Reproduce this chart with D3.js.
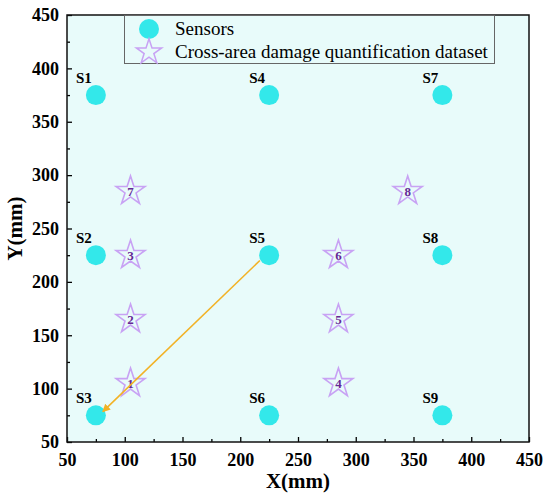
<!DOCTYPE html>
<html>
<head>
<meta charset="utf-8">
<script src="https://cdn.jsdelivr.net/npm/d3@7"></script>
<style>
  body { margin: 0; background: #fff; }
</style>
</head>
<body>
<div id="chart"></div>
<script>
// DATA
const sensorNames = ["S1", "S2", "S3", "S4", "S5", "S6", "S7", "S8", "S9"];
const sensorX = [75, 75, 75, 225, 225, 225, 375, 375, 375];
const sensorY = [375, 225, 75, 375, 225, 75, 375, 225, 75];

const damageIds = [1, 2, 3, 4, 5, 6, 7, 8];
const damageX = [105, 105, 105, 285, 285, 285, 105, 345];
const damageY = [105, 165, 225, 105, 165, 225, 285, 285];

const pathX = [217, 81];
const pathY = [220, 78.5];

const xTicks = [50, 100, 150, 200, 250, 300, 350, 400, 450];
const yTicks = [50, 100, 150, 200, 250, 300, 350, 400, 450];

const legendLabels = ["Sensors", "Cross-area damage quantification dataset"];

// CONSTANTS
const width = 550,
  height = 500,
  margin = { top: 15, right: 21, bottom: 58, left: 67 };

const serif = "'Liberation Serif', 'Times New Roman', Times, serif";

const sensorColor = "#33e8ea",
  starStroke = "#c8a2f4",
  starText = "#652896",
  arrowColor = "#f2b226";

const svg = d3.select("#chart")
  .append("svg")
  .attr("width", width)
  .attr("height", height)
  .style("font-family", serif);

const xScale = d3.scaleLinear()
  .domain([50, 450])
  .range([margin.left, width - margin.right]);

const yScale = d3.scaleLinear()
  .domain([50, 450])
  .range([height - margin.bottom, margin.top]);

const defs = svg.append("defs");
defs.append("marker")
  .attr("id", "arrow")
  .attr("viewBox", "0 0 10 10")
  .attr("refX", 9)
  .attr("refY", 5)
  .attr("markerWidth", 5)
  .attr("markerHeight", 5)
  .attr("orient", "auto")
  .append("path")
  .attr("d", "M0,0 L10,5 L0,10 z")
  .attr("fill", arrowColor);

// plot background
svg.append("rect")
  .attr("x", xScale(50))
  .attr("y", yScale(450))
  .attr("width", xScale(450) - xScale(50))
  .attr("height", yScale(50) - yScale(450))
  .attr("fill", "#e8fbfa");

// AXES (ticks pointing inward)
const minorX = d3.range(75, 450, 50);
const minorY = d3.range(75, 450, 50);

svg.append("g")
  .attr("transform", `translate(0,${yScale(50)})`)
  .call(d3.axisBottom(xScale).tickValues(minorX).tickSize(-3).tickFormat(""))
  .call(g => g.select(".domain").remove());

svg.append("g")
  .attr("transform", `translate(${xScale(50)},0)`)
  .call(d3.axisLeft(yScale).tickValues(minorY).tickSize(-3).tickFormat(""))
  .call(g => g.select(".domain").remove());

const xAxis = svg.append("g")
  .attr("transform", `translate(0,${yScale(50)})`)
  .call(d3.axisBottom(xScale).tickValues(xTicks).tickSize(-5).tickPadding(11));
xAxis.select(".domain").remove();

const yAxis = svg.append("g")
  .attr("transform", `translate(${xScale(50)},0)`)
  .call(d3.axisLeft(yScale).tickValues(yTicks).tickSize(-5).tickPadding(8));
yAxis.select(".domain").remove();

svg.selectAll(".tick line").attr("stroke", "#000").attr("stroke-width", 1.3);
svg.selectAll(".tick text")
  .style("font-family", serif)
  .style("font-size", "18px")
  .style("font-weight", "bold")
  .attr("fill", "#000");

// frame
svg.append("rect")
  .attr("x", xScale(50))
  .attr("y", yScale(450))
  .attr("width", xScale(450) - xScale(50))
  .attr("height", yScale(50) - yScale(450))
  .attr("fill", "none")
  .attr("stroke", "#111")
  .attr("stroke-width", 1.5);

// axis titles
svg.append("text")
  .attr("x", (xScale(50) + xScale(450)) / 2)
  .attr("y", 488)
  .attr("text-anchor", "middle")
  .style("font-size", "21px")
  .style("font-weight", "bold")
  .text("X(mm)");

svg.append("text")
  .attr("transform", `translate(22,${(yScale(50) + yScale(450)) / 2}) rotate(-90)`)
  .attr("text-anchor", "middle")
  .style("font-size", "21px")
  .style("font-weight", "bold")
  .text("Y(mm)");

// star shape
const star = d3.symbol().type(d3.symbolStar).size(260);

// DAMAGE POINTS
const damage = damageIds.map((id, i) => ({ id, x: damageX[i], y: damageY[i] }));

const stars = svg.append("g")
  .selectAll("g")
  .data(damage)
  .join("g")
  .attr("transform", d => `translate(${xScale(d.x)},${yScale(d.y)})`);

stars.append("path")
  .attr("d", star)
  .attr("fill", "none")
  .attr("stroke", starStroke)
  .attr("stroke-width", 1.6);

stars.append("text")
  .attr("y", 4.5)
  .attr("text-anchor", "middle")
  .style("font-size", "13px")
  .style("font-weight", "bold")
  .attr("fill", starText)
  .text(d => d.id);

// SENSORS
const sensors = sensorNames.map((name, i) => ({ name, x: sensorX[i], y: sensorY[i] }));

svg.append("g")
  .selectAll("circle")
  .data(sensors)
  .join("circle")
  .attr("cx", d => xScale(d.x))
  .attr("cy", d => yScale(d.y))
  .attr("r", 10)
  .attr("fill", sensorColor);

svg.append("g")
  .selectAll("text")
  .data(sensors)
  .join("text")
  .attr("x", d => xScale(d.x) - 4)
  .attr("y", d => yScale(d.y) - 12)
  .attr("text-anchor", "end")
  .style("font-size", "15px")
  .style("font-weight", "bold")
  .text(d => d.name);

// propagation path S5 -> S3
svg.append("line")
  .attr("x1", xScale(pathX[0]))
  .attr("y1", yScale(pathY[0]))
  .attr("x2", xScale(pathX[1]))
  .attr("y2", yScale(pathY[1]))
  .attr("stroke", arrowColor)
  .attr("stroke-width", 1.6)
  .attr("marker-end", "url(#arrow)");

// LEGEND
const legend = svg.append("g");
legend.append("rect")
  .attr("x", 124.5)
  .attr("y", 15.5)
  .attr("width", 370)
  .attr("height", 48)
  .attr("fill", "#e8fbfa")
  .attr("stroke", "#666")
  .attr("stroke-width", 1);

legend.append("circle")
  .attr("cx", 149)
  .attr("cy", 29)
  .attr("r", 10)
  .attr("fill", sensorColor);

legend.append("path")
  .attr("transform", "translate(149,52)")
  .attr("d", d3.symbol().type(d3.symbolStar).size(200))
  .attr("fill", "none")
  .attr("stroke", starStroke)
  .attr("stroke-width", 1.5);

legend.selectAll(".leg-text")
  .data(legendLabels)
  .join("text")
  .attr("class", "leg-text")
  .attr("x", 175)
  .attr("y", (d, i) => 35 + i * 23)
  .style("font-size", "19px")
  .text(d => d);
</script>
</body>
</html>
